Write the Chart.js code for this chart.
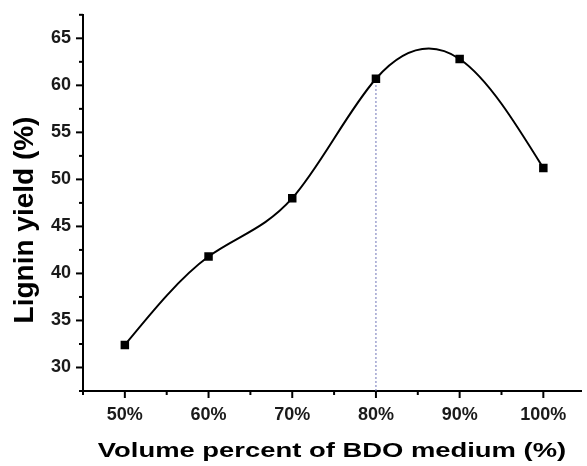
<!DOCTYPE html>
<html>
<head>
<meta charset="utf-8">
<script src="https://cdn.jsdelivr.net/npm/chart.js@4"></script>
<style>
  body { margin: 0; background: #fff; }
</style>
</head>
<body>
<canvas id="chart" width="587" height="466"></canvas>
<script>
// Data
const volumePercent = [50, 60, 70, 80, 90, 100];
const ligninYield = [32.4, 41.8, 48.0, 60.7, 62.8, 51.2];
const dropLineX = 80;          // dotted guide under the 80% point
const xTitle = 'Volume percent of BDO medium (%)';
const yTitle = 'Lignin yield (%)';

const tickFont = { family: '"Liberation Sans", Arial, sans-serif', size: 18, weight: 'bold' };

// The original curve is a natural cubic spline (Origin style), so replace
// Chart.js' own bezier control points with the spline's ones
const naturalSpline = {
    id: 'naturalSpline',
    beforeDatasetDraw(chart, args) {
        if (args.index !== 0) return;
        const line = args.meta.dataset;
        line.updateControlPoints(chart.chartArea);
        const pts = args.meta.data;
        const n = pts.length;
        const x = pts.map(p => p.x);
        const y = pts.map(p => p.y);
        const h = [];
        for (let i = 0; i < n - 1; i++) h.push(x[i + 1] - x[i]);

        // solve for second derivatives, M[0] = M[n-1] = 0
        const M = new Array(n).fill(0);
        const c = new Array(n).fill(0);
        const d = new Array(n).fill(0);
        for (let i = 1; i < n - 1; i++) {
            const a = h[i - 1];
            const b = 2 * (h[i - 1] + h[i]);
            const r = 6 * ((y[i + 1] - y[i]) / h[i] - (y[i] - y[i - 1]) / h[i - 1]);
            const m = b - a * c[i - 1];
            c[i] = h[i] / m;
            d[i] = (r - a * d[i - 1]) / m;
        }
        for (let i = n - 2; i >= 1; i--) M[i] = d[i] - c[i] * M[i + 1];

        for (let i = 0; i < n - 1; i++) {
            const s = (y[i + 1] - y[i]) / h[i];
            const dl = s - h[i] * (2 * M[i] + M[i + 1]) / 6;
            const dr = s + h[i] * (M[i] + 2 * M[i + 1]) / 6;
            pts[i].cp2x = x[i] + h[i] / 3;
            pts[i].cp2y = y[i] + dl * h[i] / 3;
            pts[i + 1].cp1x = x[i + 1] - h[i] / 3;
            pts[i + 1].cp1y = y[i + 1] - dr * h[i] / 3;
        }
        line._path = undefined;
    }
};

// Outward tick marks, long for labelled ticks, short for the others
const tickMarks = {
    id: 'tickMarks',
    afterDraw(chart) {
        const ctx = chart.ctx;
        const x = chart.scales.x;
        const y = chart.scales.y;
        ctx.save();
        ctx.strokeStyle = '#000';
        ctx.lineWidth = 2;
        x.ticks.forEach(t => {
            const px = x.getPixelForValue(t.value);
            const len = t.value % 10 === 0 ? 7 : 4;
            ctx.beginPath();
            ctx.moveTo(px, x.top);
            ctx.lineTo(px, x.top + len);
            ctx.stroke();
        });
        y.ticks.forEach(t => {
            const py = y.getPixelForValue(t.value);
            const len = t.value % 5 === 0 ? 7 : 4;
            ctx.beginPath();
            ctx.moveTo(y.right, py);
            ctx.lineTo(y.right - len, py);
            ctx.stroke();
        });
        ctx.restore();
    }
};

// Axis titles
const axisTitles = {
    id: 'axisTitles',
    afterDraw(chart) {
        const ctx = chart.ctx;
        ctx.save();
        ctx.fillStyle = '#000';
        ctx.textAlign = 'center';
        ctx.textBaseline = 'alphabetic';

        ctx.font = 'bold 20px "Liberation Sans", Arial, sans-serif';
        ctx.translate(332, 457);
        ctx.scale(1.37, 1);
        ctx.fillText(xTitle, 0, 0);
        ctx.setTransform(1, 0, 0, 1, 0, 0);

        ctx.font = 'bold 28px "Liberation Sans", Arial, sans-serif';
        ctx.translate(33, 220);
        ctx.rotate(-Math.PI / 2);
        ctx.fillText(yTitle, 0, 0);
        ctx.restore();
    }
};

new Chart(document.getElementById('chart'), {
    type: 'line',
    data: {
        datasets: [
            {
                label: 'Lignin yield',
                data: volumePercent.map((v, i) => ({ x: v, y: ligninYield[i] })),
                borderColor: '#000',
                backgroundColor: '#000',
                borderWidth: 2,
                tension: 0.4,
                pointStyle: 'rect',
                pointRadius: 6,
                pointBorderWidth: 0
            },
            {
                label: 'guide',
                data: [
                    { x: dropLineX, y: 27.5 },
                    { x: dropLineX, y: ligninYield[volumePercent.indexOf(dropLineX)] }
                ],
                borderColor: '#6f74b8',
                borderWidth: 1,
                borderDash: [2, 2],
                pointRadius: 0,
                tension: 0
            }
        ]
    },
    options: {
        responsive: false,
        animation: false,
        layout: { padding: { top: 11, right: 0, left: 0, bottom: 0 } },
        plugins: {
            legend: { display: false },
            tooltip: { enabled: false }
        },
        scales: {
            x: {
                type: 'linear',
                min: 45,
                max: 104.5,
                grid: { display: false },
                border: { display: true, color: '#000', width: 2 },
                ticks: {
                    stepSize: 5,
                    includeBounds: false,
                    autoSkip: false,
                    maxRotation: 0,
                    padding: 5,
                    color: '#1a1a1a',
                    font: tickFont,
                    callback: v => v % 10 === 0 ? v + '%' : ''
                },
                afterFit: scale => { scale.height = 75; }
            },
            y: {
                min: 27.5,
                max: 67.5,
                grid: { display: false },
                border: { display: true, color: '#000', width: 2 },
                ticks: {
                    stepSize: 2.5,
                    autoSkip: false,
                    padding: 4,
                    color: '#1a1a1a',
                    font: tickFont,
                    callback: v => v % 5 === 0 ? v : ''
                },
                afterFit: scale => { scale.width = 83; }
            }
        }
    },
    plugins: [naturalSpline, tickMarks, axisTitles]
});
</script>
</body>
</html>
